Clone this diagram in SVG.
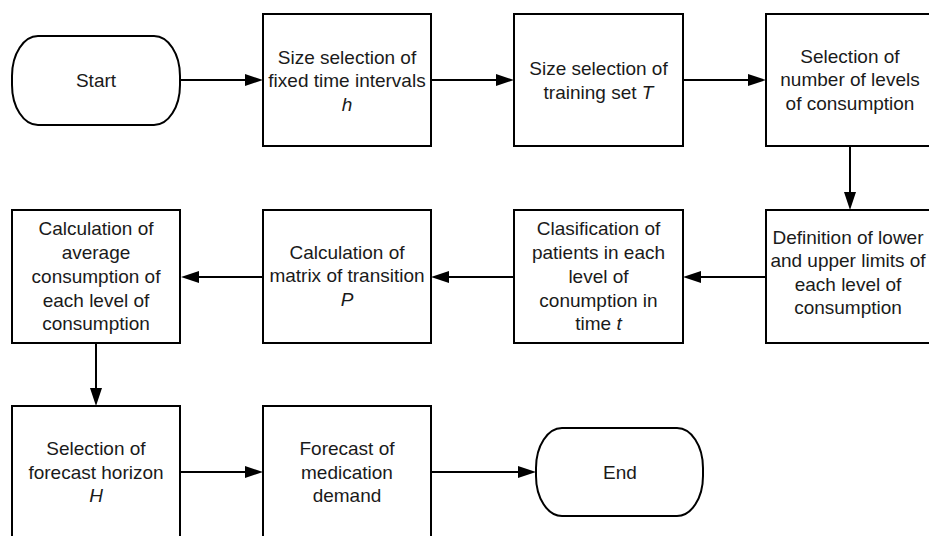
<svg xmlns="http://www.w3.org/2000/svg" width="929" height="536" viewBox="0 0 929 536">
<style>
.box{fill:#fff;stroke:#000;stroke-width:2}
.t{font-family:"Liberation Sans",Arial,sans-serif;font-size:19px;fill:#1a1a1a;text-anchor:middle}
.i{font-style:italic}
.c{fill:none;stroke:#000;stroke-width:2;marker-end:url(#ah)}
</style>
<defs>
<marker id="ah" markerUnits="userSpaceOnUse" markerWidth="18" markerHeight="12" refX="8" refY="6" orient="auto">
<path d="M0,0 L18,6 L0,12 z" fill="#000"/>
</marker>
</defs>
<rect width="929" height="536" fill="#fff"/>
<g id="connectors">
<path class="c" d="M180,80 H253"/>
<path class="c" d="M431,80 H504"/>
<path class="c" d="M683,80 H756"/>
<path class="c" d="M850,146 V200"/>
<path class="c" d="M766,277 H693"/>
<path class="c" d="M514,277 H441"/>
<path class="c" d="M263,277 H191"/>
<path class="c" d="M96,343 V396"/>
<path class="c" d="M180,472 H253"/>
<path class="c" d="M431,472 H526"/>
</g>
<g id="start">
<rect class="box" x="12" y="36" width="168" height="89" rx="26" ry="40"/>
<text class="t" x="96" y="87">Start</text>
</g>
<g id="n1">
<rect class="box" x="263" y="14" width="168" height="132"/>
<text class="t" x="347" y="63.5">Size selection of</text>
<text class="t" x="347" y="87">fixed time intervals</text>
<text class="t i" x="347" y="110.5">h</text>
</g>
<g id="n2">
<rect class="box" x="514" y="14" width="169" height="132"/>
<text class="t" x="598.5" y="74.5">Size selection of</text>
<text class="t" x="598.5" y="98.5">training set <tspan class="i">T</tspan></text>
</g>
<g id="n3">
<rect class="box" x="766" y="14" width="168" height="132"/>
<text class="t" x="850" y="62.5">Selection of</text>
<text class="t" x="850" y="86">number of levels</text>
<text class="t" x="850" y="110">of consumption</text>
</g>
<g id="n4">
<rect class="box" x="766" y="210" width="168" height="133"/>
<text class="t" x="848" y="243.5">Definition of lower</text>
<text class="t" x="848" y="267">and upper limits of</text>
<text class="t" x="848" y="290.5">each level of</text>
<text class="t" x="848" y="314">consumption</text>
</g>
<g id="n5">
<rect class="box" x="514" y="210" width="169" height="133"/>
<text class="t" x="598.5" y="235">Clasification of</text>
<text class="t" x="598.5" y="259">patients in each</text>
<text class="t" x="598.5" y="282.5">level of</text>
<text class="t" x="598.5" y="306.5">conumption in</text>
<text class="t" x="598.5" y="330">time <tspan class="i">t</tspan></text>
</g>
<g id="n6">
<rect class="box" x="263" y="210" width="168" height="133"/>
<text class="t" x="347" y="258.5">Calculation of</text>
<text class="t" x="347" y="282">matrix of transition</text>
<text class="t i" x="347" y="306">P</text>
</g>
<g id="n7">
<rect class="box" x="12" y="210" width="168" height="133"/>
<text class="t" x="96" y="235">Calculation of</text>
<text class="t" x="96" y="259">average</text>
<text class="t" x="96" y="282.5">consumption of</text>
<text class="t" x="96" y="306.5">each level of</text>
<text class="t" x="96" y="330">consumption</text>
</g>
<g id="n8">
<rect class="box" x="12" y="406" width="168" height="132"/>
<text class="t" x="96" y="455">Selection of</text>
<text class="t" x="96" y="479">forecast horizon</text>
<text class="t i" x="96" y="502">H</text>
</g>
<g id="n9">
<rect class="box" x="263" y="406" width="168" height="132"/>
<text class="t" x="347" y="455">Forecast of</text>
<text class="t" x="347" y="479">medication</text>
<text class="t" x="347" y="502">demand</text>
</g>
<g id="end">
<rect class="box" x="536" y="428" width="167" height="88" rx="26" ry="40"/>
<text class="t" x="620" y="479">End</text>
</g>
</svg>
